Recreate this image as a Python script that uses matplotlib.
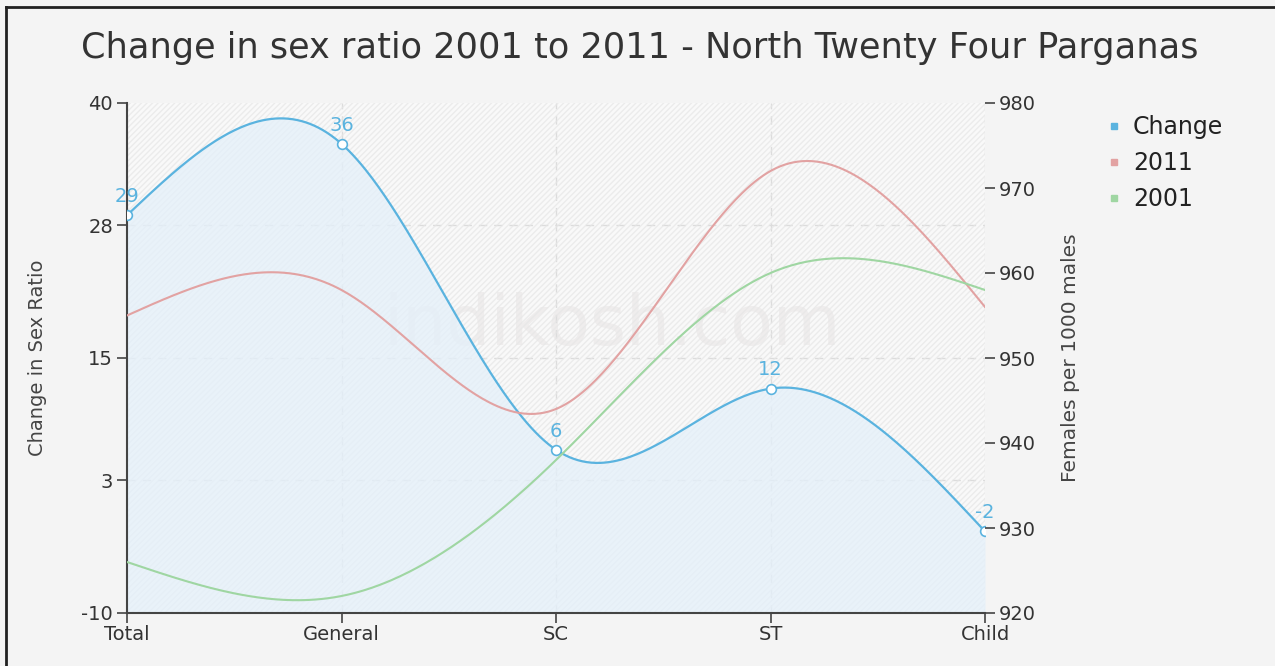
import numpy as np
import matplotlib
matplotlib.use("Agg")
import matplotlib.pyplot as plt
from matplotlib.patches import Rectangle
from matplotlib.lines import Line2D

plt.rcParams["axes.unicode_minus"] = False

categories = ["Total", "General", "SC", "ST", "Child"]
change = [29, 36, 6, 12, -2]
ratio_2011 = [955, 958, 944, 972, 956]
ratio_2001 = [926, 922, 938, 960, 958]
left_ticks = [-10, 3, 15, 28, 40]
right_ticks = [920, 930, 940, 950, 960, 970, 980]

BLUE = "#5ab3df"
RED = "#e2a2a2"
GREEN = "#9fd6a2"


def natural_spline(y, n=400):
    y = np.asarray(y, dtype=float)
    k = len(y)
    A = np.zeros((k, k))
    r = np.zeros(k)
    A[0, 0] = 1
    A[-1, -1] = 1
    for i in range(1, k - 1):
        A[i, i - 1] = 1
        A[i, i] = 4
        A[i, i + 1] = 1
        r[i] = 6 * (y[i + 1] - 2 * y[i] + y[i - 1])
    M = np.linalg.solve(A, r)
    xs = np.linspace(0, k - 1, n)
    ys = np.empty_like(xs)
    for j, xv in enumerate(xs):
        i = min(int(np.floor(xv)), k - 2)
        t = xv - i
        a = 1 - t
        ys[j] = (M[i] * a ** 3 / 6 + M[i + 1] * t ** 3 / 6
                 + (y[i] - M[i] / 6) * a + (y[i + 1] - M[i + 1] / 6) * t)
    return xs, ys


fig = plt.figure(figsize=(12.75, 6.66), dpi=100, facecolor="#f4f4f4")
ax = fig.add_axes([127 / 1275, 1 - 613 / 666, (985 - 127) / 1275, (613 - 103) / 666])
ax.set_facecolor("#f9f9f9")
ax2 = ax.twinx()

x = np.arange(len(categories))

# watermark
ax.text(2.26, 18.2, "indikosh.com", fontsize=50, color="#efeded", ha="center",
        va="center", zorder=0.3)

# grid
for t in left_ticks[1:-1]:
    ax.axhline(t, color="#dcdcdc", lw=1, ls=(0, (6, 5)), zorder=1)
for xi in x:
    ax.axvline(xi, color="#dcdcdc", lw=1, ls=(0, (6, 5)), zorder=1)

# hatched background
ax.add_patch(Rectangle((0, -10), 4, 50, facecolor="none", edgecolor="#e6e6e6",
                       hatch="//////", linewidth=0, zorder=1.2, alpha=0.7))

xs, ys = natural_spline(change)
ax.fill_between(xs, ys, -10, color="#e4f0fa", alpha=0.75, zorder=1.5, lw=0)

ax.plot(xs, ys, color=BLUE, lw=1.6, zorder=4)
ax.plot(x, change, "o", ms=7, mfc="white", mec=BLUE, mew=1.2, zorder=5)
for xi, v in zip(x, change):
    ax.text(xi, v + 0.9, str(v), color=BLUE, fontsize=14, ha="center",
            va="bottom", zorder=6)

xs2, ys2 = natural_spline(ratio_2011)
ax2.plot(xs2, ys2, color=RED, lw=1.5, zorder=3)
xs3, ys3 = natural_spline(ratio_2001)
ax2.plot(xs3, ys3, color=GREEN, lw=1.5, zorder=3)

ax.set_zorder(2)
ax2.set_zorder(3)
ax2.patch.set_visible(False)

ax.set_xlim(0, 4)
ax.set_ylim(-10, 40)
ax2.set_ylim(920, 980)
ax.set_xticks(x)
ax.set_xticklabels(categories)
ax.set_yticks(left_ticks)
ax2.set_yticks(right_ticks)

for a in (ax, ax2):
    for s in a.spines.values():
        s.set_visible(False)
ax.spines["left"].set_visible(True)
ax.spines["left"].set_color("#444444")
ax.spines["left"].set_linewidth(1.5)
ax.spines["bottom"].set_visible(True)
ax.spines["bottom"].set_color("#444444")
ax.spines["bottom"].set_linewidth(1.5)

ax.tick_params(axis="both", labelsize=14, colors="#444444", length=7, width=1.2)
ax.tick_params(axis="x", pad=2)
ax.tick_params(axis="y", pad=3)
ax2.tick_params(axis="y", labelsize=14, colors="#444444", length=7, width=1.2, pad=3)
for lbl in ax.get_xticklabels() + ax.get_yticklabels() + ax2.get_yticklabels():
    lbl.set_color("#333333")

ax.set_ylabel("Change in Sex Ratio", fontsize=14, color="#444444", labelpad=25)
ax2.set_ylabel("Females per 1000 males", fontsize=14.5, color="#444444", labelpad=18)

fig.text(0.502, 0.928, "Change in sex ratio 2001 to 2011 - North Twenty Four Parganas",
         ha="center", va="center", fontsize=25.3, color="#333333")

handles = [Line2D([], [], ls="none", marker="s", ms=5, color=c) for c in (BLUE, RED, GREEN)]
fig.legend(handles, ["Change", "2011", "2001"], loc="upper left",
           bbox_to_anchor=(1095 / 1275, 1 - 106 / 666), frameon=False,
           fontsize=17, handlelength=0.8, handletextpad=0.4, labelspacing=0.5,
           borderaxespad=0, labelcolor="#222222")

# figure border (top and left)
fig.add_artist(Line2D([6 / 1275, 1], [1 - 7 / 666, 1 - 7 / 666], color="#222222", lw=2))
fig.add_artist(Line2D([6 / 1275, 6 / 1275], [0, 1 - 7 / 666], color="#222222", lw=2))

fig.savefig("out.png", dpi=100, facecolor=fig.get_facecolor())
